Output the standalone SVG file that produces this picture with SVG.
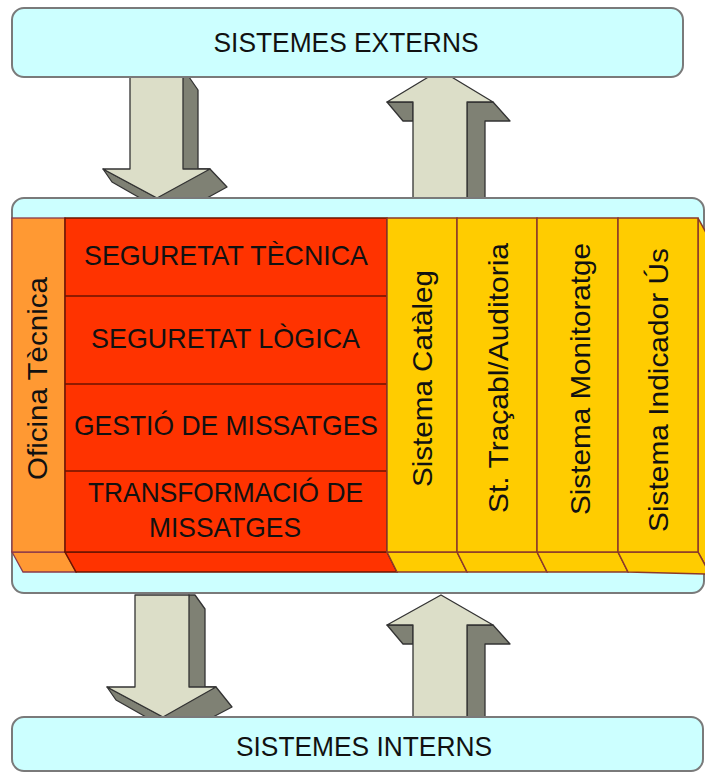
<svg xmlns="http://www.w3.org/2000/svg" width="705" height="776" viewBox="0 0 705 776">
<style>
.box{fill:#CCFFFF;stroke:#7a7a7a;stroke-width:2}
.front{fill:#DCDEC8;stroke:#333;stroke-width:1.3;stroke-linejoin:round}
.shadow{fill:#7F8174;stroke:#333;stroke-width:1.3;stroke-linejoin:round}
.t{font-family:"Liberation Sans",Arial,sans-serif;font-size:28.5px;fill:#111}
.or{fill:#FF9933;stroke:#8B3A4A;stroke-width:1.3}
.rd{fill:#FF3300;stroke:#6B1500;stroke-width:1.5}
.ye{fill:#FFCC00;stroke:#8B3A2A;stroke-width:1.5}
</style>
<g id="connectors">
  <g id="arrow-ext-in">
    <polygon class="shadow" points="183,77 189,77 198,90 198,169 210,169 227,187 207,198 157,198"/>
    <polygon class="shadow" points="103,169 112,182 140,198 157,198"/>
    <polygon class="front" points="130,77 183,77 183,169 210,169 157,198 103,169 130,169"/>
  </g>
  <g id="arrow-ext-out">
    <polygon class="shadow" points="467,102 493,102 510,121 485,121 485,198 467,198"/>
    <polygon class="shadow" points="387,102 413,102 413,121 403,121"/>
    <polygon class="front" points="440,70 493,102 467,102 467,198 413,198 413,102 387,102"/>
  </g>
  <g id="arrow-int-in">
    <polygon class="shadow" points="189,595 195,595 205,609 205,687 216,687 232,707 213,717 163,717"/>
    <polygon class="shadow" points="107,687 116,700 146,717 163,717"/>
    <polygon class="front" points="135,595 189,595 189,687 216,687 163,717 107,687 135,687"/>
  </g>
  <g id="arrow-int-out">
    <polygon class="shadow" points="467,625 493,625 510,644 485,644 485,717 467,717"/>
    <polygon class="shadow" points="387,625 413,625 413,644 403,644"/>
    <polygon class="front" points="441,595 493,625 467,625 467,717 413,717 413,625 387,625"/>
  </g>
</g>
<g id="sistemes-externs">
  <rect class="box" x="12" y="8" width="671" height="69" rx="12"/>
  <text class="t" x="346" y="52" text-anchor="middle" textLength="265" lengthAdjust="spacingAndGlyphs">SISTEMES EXTERNS</text>
</g>
<g id="sistemes-interns">
  <rect class="box" x="12" y="717" width="691" height="54" rx="12"/>
  <text class="t" x="364" y="756" text-anchor="middle" textLength="256" lengthAdjust="spacingAndGlyphs">SISTEMES INTERNS</text>
</g>
<g id="plataforma">
  <rect class="box" x="12" y="198" width="692" height="395" rx="12"/>
</g>
<g id="oficina-tecnica">
  <polygon class="or" points="12,552 65,552 76,572 23,572"/>
  <rect class="or" x="12" y="218" width="53" height="334"/>
  <text class="t" transform="translate(47,378.5) rotate(-90)" text-anchor="middle" textLength="203" lengthAdjust="spacingAndGlyphs">Oficina Tècnica</text>
</g>
<g id="bloc-vermell">
  <polygon class="rd" points="65,552 387,552 397,572 76,572"/>
  <rect class="rd" x="65" y="218" width="322" height="334"/>
  <line x1="65" y1="296" x2="387" y2="296" stroke="#6B1500" stroke-width="1.5"/>
  <line x1="65" y1="384" x2="387" y2="384" stroke="#6B1500" stroke-width="1.5"/>
  <line x1="65" y1="471" x2="387" y2="471" stroke="#6B1500" stroke-width="1.5"/>
</g>
<g id="seguretat-tecnica">
  <text class="t" x="226" y="265" text-anchor="middle" textLength="284" lengthAdjust="spacingAndGlyphs">SEGURETAT TÈCNICA</text>
</g>
<g id="seguretat-logica">
  <text class="t" x="225.5" y="348" text-anchor="middle" textLength="269" lengthAdjust="spacingAndGlyphs">SEGURETAT LÒGICA</text>
</g>
<g id="gestio-missatges">
  <text class="t" x="226" y="435" text-anchor="middle" textLength="304" lengthAdjust="spacingAndGlyphs">GESTIÓ DE MISSATGES</text>
</g>
<g id="transformacio-missatges">
  <text class="t" x="225.5" y="502" text-anchor="middle" textLength="275" lengthAdjust="spacingAndGlyphs">TRANSFORMACIÓ DE</text>
  <text class="t" x="225" y="537" text-anchor="middle" textLength="152" lengthAdjust="spacingAndGlyphs">MISSATGES</text>
</g>
<g id="sistema-cataleg">
  <polygon class="ye" points="387,552 457,552 467,572 397,572"/>
  <rect class="ye" x="387" y="218" width="70" height="334"/>
  <text class="t" transform="translate(432,378.5) rotate(-90)" text-anchor="middle" textLength="217" lengthAdjust="spacingAndGlyphs">Sistema Catàleg</text>
</g>
<g id="st-tracabl-auditoria">
  <polygon class="ye" points="457,552 537,552 547,572 467,572"/>
  <rect class="ye" x="457" y="218" width="80" height="334"/>
  <text class="t" transform="translate(508,378) rotate(-90)" text-anchor="middle" textLength="270" lengthAdjust="spacingAndGlyphs">St. Traçabl/Auditoria</text>
</g>
<g id="sistema-monitoratge">
  <polygon class="ye" points="537,552 618,552 628,572 547,572"/>
  <rect class="ye" x="537" y="218" width="81" height="334"/>
  <text class="t" transform="translate(590,379) rotate(-90)" text-anchor="middle" textLength="272" lengthAdjust="spacingAndGlyphs">Sistema Monitoratge</text>
</g>
<g id="sistema-indicador-us">
  <polygon class="ye" points="698,218 710,240 710,574 698,552"/>
  <polygon class="ye" points="618,552 698,552 710,574 628,572"/>
  <rect class="ye" x="618" y="218" width="80" height="334"/>
  <text class="t" transform="translate(668,390) rotate(-90)" text-anchor="middle" textLength="284" lengthAdjust="spacingAndGlyphs">Sistema Indicador Ús</text>
</g>
</svg>
